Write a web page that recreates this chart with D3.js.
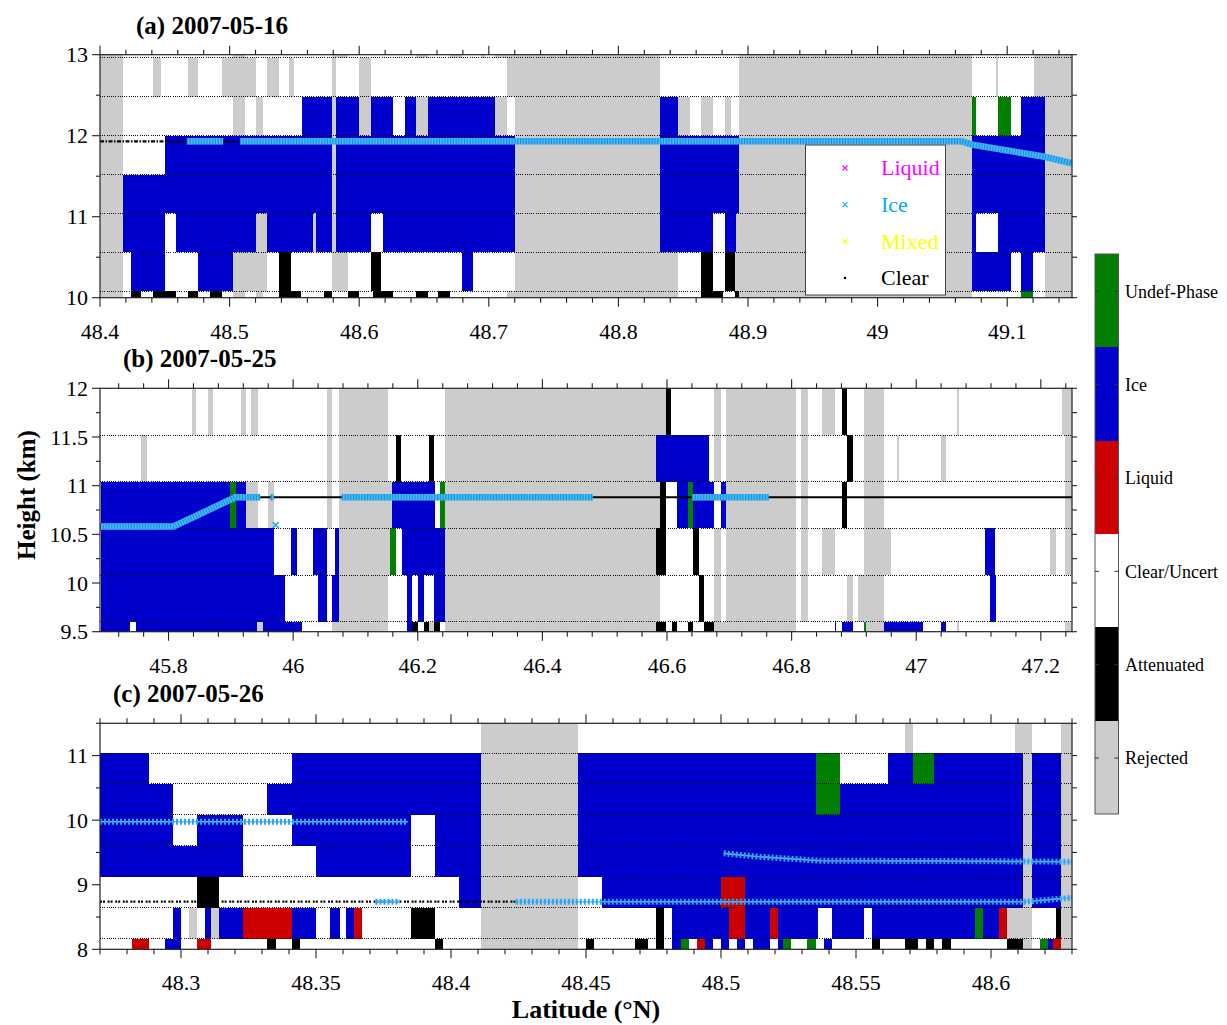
<!DOCTYPE html>
<html>
<head>
<meta charset="utf-8">
<script src="https://cdn.jsdelivr.net/npm/d3@7"></script>
<style>
  body { margin: 0; background: #fff; }
  svg { display: block; }
  text { font-family: "Liberation Serif", "Times New Roman", Times, serif; }
</style>
</head>
<body>
<svg id="chart" width="1227" height="1025"></svg>
<script>
// ---------------------------------------------------------------------------
// Classification codes and colours
// ---------------------------------------------------------------------------
const classCodes  = ['R', 'A', 'C', 'L', 'I', 'U'];
const classNames  = ['Rejected', 'Attenuated', 'Clear/Uncert', 'Liquid', 'Ice', 'Undef-Phase'];
const classColors = ['#cccccc', '#000000', '#ffffff', '#cc0000', '#0000cc', '#007f00'];

// vertical bin depth of the profile grid (km)
const binDepth = 0.48;

// ---------------------------------------------------------------------------
// (a) 2007-05-16
// each row: [latitude where a run starts, class code]; a run ends where the next begins
// ---------------------------------------------------------------------------
const latDomainA = [48.4, 49.15];
const heightDomainA = [10, 13];
const binBasesA = [12.96, 12.48, 12.0, 11.52, 11.04, 10.56, 10.08, 9.6];
const cellsA = [
  [[48.400,'R'],[48.418,'C'],[48.503,'R'],[48.512,'C'],[48.579,'R'],[48.591,'C'],[48.644,'R'],[48.653,'C'],[48.670,'R'],[48.679,'C'],[48.694,'R'],[48.697,'C'],[48.705,'R'],[48.832,'C'],[48.893,'R'],[49.073,'C'],[49.091,'R'],[49.093,'C'],[49.121,'R']],
  [[48.400,'R'],[48.418,'C'],[48.441,'R'],[48.447,'C'],[48.468,'R'],[48.476,'C'],[48.494,'R'],[48.520,'C'],[48.529,'R'],[48.538,'C'],[48.546,'R'],[48.550,'C'],[48.579,'R'],[48.582,'C'],[48.600,'R'],[48.609,'C'],[48.714,'R'],[48.832,'C'],[48.893,'R'],[49.073,'C'],[49.091,'R'],[49.093,'C'],[49.121,'R']],
  [[48.400,'R'],[48.418,'C'],[48.503,'R'],[48.512,'C'],[48.520,'R'],[48.526,'C'],[48.556,'I'],[48.579,'R'],[48.582,'I'],[48.600,'R'],[48.609,'I'],[48.626,'C'],[48.635,'I'],[48.644,'R'],[48.653,'I'],[48.705,'R'],[48.714,'C'],[48.720,'R'],[48.832,'I'],[48.846,'R'],[48.855,'C'],[48.864,'R'],[48.873,'C'],[48.882,'R'],[48.887,'C'],[48.893,'R'],[49.073,'U'],[49.076,'C'],[49.093,'U'],[49.103,'C'],[49.111,'I'],[49.129,'R']],
  [[48.400,'R'],[48.418,'C'],[48.450,'I'],[48.579,'R'],[48.582,'I'],[48.720,'R'],[48.832,'I'],[48.893,'R'],[49.073,'I'],[49.129,'R']],
  [[48.400,'R'],[48.418,'I'],[48.579,'R'],[48.582,'I'],[48.720,'R'],[48.832,'I'],[48.893,'R'],[49.073,'I'],[49.129,'R']],
  [[48.400,'R'],[48.418,'I'],[48.450,'C'],[48.459,'I'],[48.520,'R'],[48.529,'I'],[48.564,'R'],[48.567,'I'],[48.579,'R'],[48.582,'I'],[48.609,'C'],[48.618,'I'],[48.720,'R'],[48.832,'I'],[48.873,'C'],[48.882,'I'],[48.891,'R'],[49.073,'I'],[49.076,'C'],[49.093,'I'],[49.129,'R']],
  [[48.400,'R'],[48.418,'C'],[48.424,'I'],[48.450,'C'],[48.476,'I'],[48.503,'R'],[48.529,'C'],[48.538,'A'],[48.547,'C'],[48.579,'R'],[48.591,'C'],[48.609,'A'],[48.617,'C'],[48.679,'I'],[48.688,'C'],[48.720,'R'],[48.846,'C'],[48.864,'A'],[48.873,'C'],[48.882,'A'],[48.890,'R'],[49.073,'I'],[49.103,'C'],[49.111,'I'],[49.120,'C'],[49.129,'R']],
  [[48.400,'R'],[48.418,'C'],[48.424,'A'],[48.432,'C'],[48.441,'A'],[48.459,'C'],[48.468,'A'],[48.476,'C'],[48.485,'A'],[48.494,'C'],[48.503,'R'],[48.512,'C'],[48.520,'R'],[48.526,'C'],[48.538,'A'],[48.555,'C'],[48.573,'A'],[48.579,'C'],[48.591,'A'],[48.600,'C'],[48.611,'A'],[48.626,'C'],[48.644,'A'],[48.653,'C'],[48.661,'A'],[48.670,'C'],[48.714,'R'],[48.846,'C'],[48.864,'A'],[48.881,'C'],[48.890,'A'],[48.893,'R'],[49.073,'C'],[49.111,'U'],[49.120,'C'],[49.129,'R']]
];
// cloud-top detections: [latitude, height km]
const iceTopsA = [
  [[48.467, 11.93], [48.495, 11.93]],
  [[48.508, 11.93], [49.065, 11.93], [49.073, 11.89], [49.129, 11.74], [49.15, 11.66]]
];
const clearTopsA = [
  [[48.400, 11.93], [48.467, 11.93]],
  [[48.495, 11.93], [48.508, 11.93]]
];
const xTickLabelsA = ['48.4', '48.5', '48.6', '48.7', '48.8', '48.9', '49', '49.1'];
const yTickLabelsA = ['10', '11', '12', '13'];

// ---------------------------------------------------------------------------
// (b) 2007-05-25
// ---------------------------------------------------------------------------
const latDomainB = [45.69, 47.25];
const heightDomainB = [9.5, 12];
const binBasesB = [11.52, 11.04, 10.56, 10.08, 9.6, 9.12];
const cellsB = [
  [[45.690,'C'],[45.837,'R'],[45.844,'C'],[45.864,'R'],[45.872,'C'],[45.916,'R'],[45.925,'C'],[45.933,'R'],[45.943,'C'],[46.055,'R'],[46.062,'C'],[46.073,'R'],[46.152,'C'],[46.244,'R'],[46.598,'A'],[46.606,'C'],[46.675,'R'],[46.686,'C'],[46.695,'R'],[46.807,'C'],[46.815,'R'],[46.827,'C'],[46.849,'R'],[46.869,'C'],[46.881,'A'],[46.889,'C'],[46.916,'R'],[46.948,'C'],[47.066,'R'],[47.069,'C'],[47.234,'R']],
  [[45.690,'C'],[45.756,'R'],[45.765,'C'],[46.055,'R'],[46.062,'C'],[46.073,'R'],[46.152,'C'],[46.165,'A'],[46.173,'C'],[46.218,'A'],[46.226,'C'],[46.244,'R'],[46.583,'I'],[46.668,'C'],[46.675,'R'],[46.686,'C'],[46.695,'R'],[46.807,'C'],[46.815,'R'],[46.827,'C'],[46.889,'A'],[46.898,'C'],[46.916,'R'],[46.948,'C'],[46.969,'R'],[46.972,'C'],[47.039,'R'],[47.048,'C'],[47.238,'R']],
  [[45.690,'C'],[45.691,'I'],[45.899,'U'],[45.908,'I'],[45.925,'R'],[45.943,'C'],[45.960,'R'],[45.969,'C'],[46.055,'R'],[46.062,'C'],[46.073,'R'],[46.159,'I'],[46.227,'C'],[46.235,'U'],[46.244,'R'],[46.588,'A'],[46.598,'C'],[46.616,'I'],[46.634,'U'],[46.641,'I'],[46.675,'C'],[46.686,'I'],[46.695,'R'],[46.807,'C'],[46.815,'R'],[46.827,'C'],[46.881,'A'],[46.889,'C'],[46.916,'R'],[46.948,'C'],[47.238,'R']],
  [[45.690,'C'],[45.691,'I'],[45.969,'C'],[45.996,'I'],[46.006,'C'],[46.032,'I'],[46.055,'C'],[46.067,'I'],[46.073,'R'],[46.156,'U'],[46.165,'C'],[46.174,'I'],[46.244,'R'],[46.583,'A'],[46.598,'C'],[46.642,'A'],[46.651,'C'],[46.675,'R'],[46.686,'C'],[46.695,'R'],[46.807,'C'],[46.815,'R'],[46.827,'C'],[46.849,'R'],[46.869,'C'],[46.916,'R'],[46.959,'C'],[47.110,'I'],[47.127,'C'],[47.215,'R'],[47.224,'C'],[47.238,'R']],
  [[45.690,'C'],[45.691,'I'],[45.987,'C'],[46.040,'I'],[46.055,'C'],[46.062,'I'],[46.073,'R'],[46.152,'C'],[46.183,'I'],[46.191,'C'],[46.201,'I'],[46.210,'C'],[46.226,'I'],[46.244,'R'],[46.589,'C'],[46.651,'A'],[46.660,'C'],[46.675,'R'],[46.686,'C'],[46.695,'R'],[46.807,'C'],[46.815,'R'],[46.827,'C'],[46.889,'R'],[46.898,'C'],[46.907,'R'],[46.948,'C'],[47.119,'I'],[47.128,'C']],
  [[45.690,'C'],[45.691,'I'],[45.738,'C'],[45.747,'I'],[45.942,'R'],[45.952,'I'],[46.014,'C'],[46.062,'R'],[46.152,'C'],[46.183,'I'],[46.191,'A'],[46.201,'C'],[46.210,'A'],[46.218,'R'],[46.226,'A'],[46.235,'C'],[46.244,'R'],[46.583,'A'],[46.598,'C'],[46.608,'A'],[46.616,'C'],[46.633,'A'],[46.642,'C'],[46.660,'A'],[46.675,'R'],[46.807,'C'],[46.869,'I'],[46.871,'C'],[46.881,'I'],[46.898,'C'],[46.916,'U'],[46.919,'R'],[46.948,'I'],[47.011,'C'],[47.039,'I'],[47.048,'C'],[47.066,'R'],[47.069,'C'],[47.238,'R']]
];
const iceTopsB = [
  [[45.690, 10.58], [45.808, 10.58], [45.907, 10.88], [45.947, 10.88]],
  [[45.964, 10.88], [45.969, 10.88]],
  [[46.078, 10.88], [46.481, 10.88]],
  [[46.640, 10.88], [46.763, 10.88]]
];
const icePointsB = [[45.972, 10.597]];
const clearTopsB = [
  [[45.947, 10.88], [47.25, 10.88]]
];
const xTickLabelsB = ['45.8', '46', '46.2', '46.4', '46.6', '46.8', '47', '47.2'];
const yTickLabelsB = ['9.5', '10', '10.5', '11', '11.5', '12'];

// ---------------------------------------------------------------------------
// (c) 2007-05-26
// ---------------------------------------------------------------------------
const latDomainC = [48.27, 48.63];
const heightDomainC = [8, 11.5];
const binBasesC = [11.04, 10.56, 10.08, 9.6, 9.12, 8.64, 8.16, 7.68];
const cellsC = [
  [[48.270,'C'],[48.411,'R'],[48.447,'C'],[48.568,'R'],[48.571,'C'],[48.609,'R'],[48.615,'C'],[48.626,'R']],
  [[48.270,'I'],[48.288,'C'],[48.341,'I'],[48.411,'R'],[48.447,'I'],[48.535,'U'],[48.544,'C'],[48.562,'I'],[48.571,'U'],[48.579,'I'],[48.612,'R'],[48.615,'I'],[48.626,'R']],
  [[48.270,'I'],[48.297,'C'],[48.332,'I'],[48.411,'R'],[48.447,'I'],[48.535,'U'],[48.544,'I'],[48.612,'R'],[48.615,'I'],[48.626,'R']],
  [[48.270,'I'],[48.297,'C'],[48.306,'I'],[48.323,'C'],[48.341,'I'],[48.385,'C'],[48.394,'I'],[48.411,'R'],[48.447,'I'],[48.612,'R'],[48.615,'I'],[48.626,'R']],
  [[48.270,'I'],[48.323,'C'],[48.350,'I'],[48.385,'C'],[48.394,'I'],[48.411,'R'],[48.447,'I'],[48.612,'R'],[48.615,'I'],[48.626,'R']],
  [[48.270,'C'],[48.306,'A'],[48.314,'C'],[48.403,'I'],[48.411,'R'],[48.447,'C'],[48.456,'I'],[48.500,'L'],[48.509,'I'],[48.612,'R'],[48.615,'I'],[48.626,'R']],
  [[48.270,'C'],[48.297,'I'],[48.300,'C'],[48.303,'R'],[48.306,'C'],[48.309,'I'],[48.311,'R'],[48.314,'I'],[48.323,'L'],[48.341,'I'],[48.350,'C'],[48.355,'I'],[48.359,'C'],[48.361,'I'],[48.364,'L'],[48.367,'C'],[48.385,'A'],[48.394,'C'],[48.411,'R'],[48.447,'C'],[48.476,'A'],[48.479,'C'],[48.482,'I'],[48.503,'L'],[48.509,'I'],[48.518,'L'],[48.521,'I'],[48.536,'C'],[48.541,'I'],[48.553,'C'],[48.556,'I'],[48.594,'U'],[48.597,'I'],[48.603,'L'],[48.606,'R'],[48.615,'C'],[48.624,'A'],[48.626,'R']],
  [[48.270,'C'],[48.282,'L'],[48.288,'C'],[48.294,'I'],[48.300,'C'],[48.306,'L'],[48.311,'C'],[48.332,'A'],[48.335,'C'],[48.341,'A'],[48.344,'C'],[48.394,'A'],[48.397,'C'],[48.411,'R'],[48.447,'C'],[48.450,'A'],[48.453,'C'],[48.468,'A'],[48.473,'C'],[48.476,'A'],[48.479,'C'],[48.482,'I'],[48.485,'U'],[48.488,'C'],[48.491,'L'],[48.494,'I'],[48.497,'C'],[48.500,'I'],[48.503,'C'],[48.506,'I'],[48.509,'C'],[48.512,'I'],[48.518,'C'],[48.521,'I'],[48.523,'U'],[48.526,'C'],[48.532,'U'],[48.535,'C'],[48.538,'I'],[48.541,'C'],[48.556,'A'],[48.559,'C'],[48.568,'A'],[48.573,'C'],[48.576,'A'],[48.579,'C'],[48.582,'A'],[48.585,'C'],[48.606,'A'],[48.612,'R'],[48.615,'C'],[48.618,'U'],[48.621,'I'],[48.623,'L'],[48.626,'R']]
];
const iceTopsC = [
  [[48.270, 9.975], [48.384, 9.975]],
  [[48.372, 8.737], [48.381, 8.737]],
  [[48.424, 8.737], [48.613, 8.737], [48.630, 8.80]],
  [[48.501, 9.486], [48.514, 9.434], [48.537, 9.371], [48.580, 9.368], [48.630, 9.356]]
];
const icePointsC = [];
const clearTopsC = [
  [[48.270, 8.737], [48.424, 8.737]]
];
const xTickLabelsC = ['48.3', '48.35', '48.4', '48.45', '48.5', '48.55', '48.6'];
const yTickLabelsC = ['8', '9', '10', '11'];

// legend of top-phase markers
const legendNames  = ['Liquid', 'Ice', 'Mixed', 'Clear'];
const legendColors = ['#ff00ff', '#00aaff', '#ffff00', '#000000'];

// ---------------------------------------------------------------------------
// Layout
// ---------------------------------------------------------------------------
const plotLeft = 100, plotRight = 1072;
const panels = [
  { key: 'a', title: '(a) 2007-05-16', titleX: 136, top: 54.7, bottom: 297.7,
    latDomain: latDomainA, hDomain: heightDomainA, bases: binBasesA, cells: cellsA,
    ice: iceTopsA, icePts: [], clear: clearTopsA, clearStyle: 'dashdot', iceStyle: 'dense',
    xLabels: xTickLabelsA, xMinor: 0.02, yLabels: yTickLabelsA, yMinor: 0.5 },
  { key: 'b', title: '(b) 2007-05-25', titleX: 123, top: 388.3, bottom: 631.7,
    latDomain: latDomainB, hDomain: heightDomainB, bases: binBasesB, cells: cellsB,
    ice: iceTopsB, icePts: icePointsB, clear: clearTopsB, clearStyle: 'solid', iceStyle: 'dense',
    xLabels: xTickLabelsB, xMinor: 0.04, yLabels: yTickLabelsB, yMinor: 0.25 },
  { key: 'c', title: '(c) 2007-05-26', titleX: 113, top: 723.3, bottom: 949.3,
    latDomain: latDomainC, hDomain: heightDomainC, bases: binBasesC, cells: cellsC,
    ice: iceTopsC, icePts: icePointsC, clear: clearTopsC, clearStyle: 'dotted', iceStyle: 'sparse',
    xLabels: xTickLabelsC, xMinor: 0.01, yLabels: yTickLabelsC, yMinor: 0.5 }
];

const svg = d3.select('#chart');
const defs = svg.append('defs');
const colorOf = d3.scaleOrdinal(classCodes, classColors);
const timesPath = 'M-3,-3L3,3M-3,3L3,-3';

function stepValues(domain, step) {
  const out = [];
  const k0 = Math.ceil(domain[0] / step - 1e-6), k1 = Math.floor(domain[1] / step + 1e-6);
  for (let k = k0; k <= k1; k++) out.push(+(k * step).toFixed(6));
  return out;
}

function drawPanel(p) {
  const x = d3.scaleLinear(p.latDomain, [plotLeft, plotRight]);
  const y = d3.scaleLinear(p.hDomain, [p.bottom, p.top]);
  const g = svg.append('g').attr('class', 'panel-' + p.key);

  defs.append('clipPath').attr('id', 'clip-' + p.key)
    .append('rect').attr('x', plotLeft).attr('y', p.top)
    .attr('width', plotRight - plotLeft).attr('height', p.bottom - p.top);

  // classification cells
  const cellG = g.append('g').attr('clip-path', `url(#clip-${p.key})`).attr('shape-rendering', 'crispEdges');
  p.bases.forEach((base, i) => {
    const row = p.cells[i];
    row.forEach(([start, code], j) => {
      const end = j < row.length - 1 ? row[j + 1][0] : p.latDomain[1];
      cellG.append('rect')
        .attr('x', x(start)).attr('width', Math.max(0, x(end) - x(start)))
        .attr('y', y(base + binDepth)).attr('height', y(base) - y(base + binDepth))
        .attr('fill', colorOf(code));
    });
  });

  // bin boundaries
  const edges = p.bases.filter(b => b > p.hDomain[0] && b < p.hDomain[1]);
  g.append('g').selectAll('line').data(edges).join('line')
    .attr('x1', plotLeft).attr('x2', plotRight)
    .attr('y1', d => y(d)).attr('y2', d => y(d))
    .attr('stroke', '#111').attr('stroke-width', 1).attr('stroke-dasharray', '1,1.2')
    .attr('shape-rendering', 'crispEdges');

  // cloud-top markers
  const line = d3.line().x(d => x(d[0])).y(d => y(d[1]));
  const lineG = g.append('g').attr('clip-path', `url(#clip-${p.key})`).attr('fill', 'none');
  p.clear.forEach(seg => {
    const path = lineG.append('path').attr('d', line(seg)).attr('stroke', '#000');
    if (p.clearStyle === 'dashdot') path.attr('stroke-width', 2.2).attr('stroke-dasharray', '4,1.5,1.5,1.5');
    else if (p.clearStyle === 'dotted') path.attr('stroke-width', 2.2).attr('stroke-dasharray', '2,1,2,2.6');
    else path.attr('stroke-width', 2);
  });
  p.ice.forEach(seg => {
    if (p.iceStyle === 'dense') {
      lineG.append('path').attr('d', line(seg)).attr('stroke', '#4cbaf6').attr('stroke-width', 6.5);
      lineG.append('path').attr('d', line(seg)).attr('stroke', '#1592e2').attr('stroke-width', 6.5)
        .attr('stroke-dasharray', '1.2,1.6');
    } else {
      lineG.append('path').attr('d', line(seg)).attr('stroke', '#5fbff7').attr('stroke-width', 1.6);
      lineG.append('path').attr('d', line(seg)).attr('stroke', '#2aa6f3').attr('stroke-width', 6)
        .attr('stroke-dasharray', '2,2');
    }
  });
  p.icePts.forEach(pt => {
    lineG.append('path').attr('d', timesPath)
      .attr('transform', `translate(${x(pt[0])},${y(pt[1])})`)
      .attr('stroke', '#1aa3f0').attr('stroke-width', 1.4);
  });

  // frame
  g.append('rect').attr('x', plotLeft).attr('y', p.top)
    .attr('width', plotRight - plotLeft).attr('height', p.bottom - p.top)
    .attr('fill', 'none').attr('stroke', '#222').attr('stroke-width', 1.2);

  // axes (outward ticks on all four sides)
  const ax = g.append('g').attr('stroke', '#222').attr('stroke-width', 1.1);
  const xMajor = p.xLabels.map(Number);
  const xMinor = stepValues(p.latDomain, p.xMinor).filter(v => !xMajor.some(m => Math.abs(m - v) < 1e-6));
  [[xMajor, 9], [xMinor, 5]].forEach(([vals, len]) => {
    vals.forEach(v => {
      ax.append('line').attr('x1', x(v)).attr('x2', x(v)).attr('y1', p.bottom).attr('y2', p.bottom + len);
      ax.append('line').attr('x1', x(v)).attr('x2', x(v)).attr('y1', p.top).attr('y2', p.top - len);
    });
  });
  const yMajor = p.yLabels.map(Number);
  const yMinor = stepValues(p.hDomain, p.yMinor).filter(v => !yMajor.some(m => Math.abs(m - v) < 1e-6));
  [[yMajor, 8], [yMinor, 4]].forEach(([vals, len]) => {
    vals.forEach(v => {
      ax.append('line').attr('x1', plotLeft - len).attr('x2', plotLeft).attr('y1', y(v)).attr('y2', y(v));
      ax.append('line').attr('x1', plotRight).attr('x2', plotRight + 5).attr('y1', y(v)).attr('y2', y(v));
    });
  });

  g.append('g').selectAll('text').data(p.xLabels).join('text')
    .attr('x', d => x(+d)).attr('y', p.bottom + 41)
    .attr('text-anchor', 'middle').attr('font-size', 22).text(d => d);
  g.append('g').selectAll('text').data(p.yLabels).join('text')
    .attr('x', 88).attr('y', d => y(+d)).attr('dy', '0.35em')
    .attr('text-anchor', 'end').attr('font-size', 22).text(d => d);

  svg.append('text').attr('x', p.titleX).attr('y', p.top - 21)
    .attr('font-size', 25).attr('font-weight', 'bold').text(p.title);
}

panels.forEach(drawPanel);

// legend of top-phase markers inside panel (a)
const legend = svg.append('g');
legend.append('rect').attr('x', 805.5).attr('y', 145).attr('width', 140).attr('height', 150)
  .attr('fill', '#fff').attr('stroke', '#444').attr('stroke-width', 1);
const legendY = d3.scalePoint(legendNames, [168, 278]);
legendNames.forEach((name, i) => {
  const cy = legendY(name);
  if (name === 'Clear') {
    legend.append('circle').attr('cx', 845).attr('cy', cy).attr('r', 1.3).attr('fill', legendColors[i]);
  } else {
    legend.append('path').attr('d', 'M-2.5,-2.5L2.5,2.5M-2.5,2.5L2.5,-2.5')
      .attr('transform', `translate(845,${cy})`).attr('stroke', legendColors[i]).attr('stroke-width', 1.1);
  }
  legend.append('text').attr('x', 881).attr('y', cy).attr('dy', '0.33em')
    .attr('font-size', 22).attr('fill', legendColors[i]).text(name);
});

// colour bar of classification classes
const cb = svg.append('g');
const cbLeft = 1095, cbWidth = 23.5;
const cbY = d3.scaleLinear([0, classCodes.length], [814, 254]);
classCodes.forEach((code, i) => {
  cb.append('rect').attr('x', cbLeft).attr('width', cbWidth)
    .attr('y', cbY(i + 1)).attr('height', cbY(i) - cbY(i + 1))
    .attr('fill', classColors[i]).attr('shape-rendering', 'crispEdges');
});
cb.append('rect').attr('x', cbLeft).attr('y', cbY(classCodes.length)).attr('width', cbWidth)
  .attr('height', cbY(0) - cbY(classCodes.length))
  .attr('fill', 'none').attr('stroke', '#555').attr('stroke-width', 1);
classNames.forEach((name, i) => {
  const ty = cbY(i + 0.6);
  cb.append('line').attr('x1', cbLeft).attr('x2', cbLeft + 4).attr('y1', ty).attr('y2', ty).attr('stroke', '#333');
  cb.append('line').attr('x1', cbLeft + cbWidth - 4).attr('x2', cbLeft + cbWidth).attr('y1', ty).attr('y2', ty).attr('stroke', '#333');
  cb.append('text').attr('x', 1125).attr('y', ty).attr('dy', '0.35em')
    .attr('font-size', 18).text(name);
});

// axis titles
svg.append('text').attr('transform', 'translate(35,495) rotate(-90)')
  .attr('text-anchor', 'middle').attr('font-size', 25).attr('font-weight', 'bold').text('Height (km)');
svg.append('text').attr('x', 586).attr('y', 1018)
  .attr('text-anchor', 'middle').attr('font-size', 26).attr('font-weight', 'bold').text('Latitude (°N)');
</script>
</body>
</html>
